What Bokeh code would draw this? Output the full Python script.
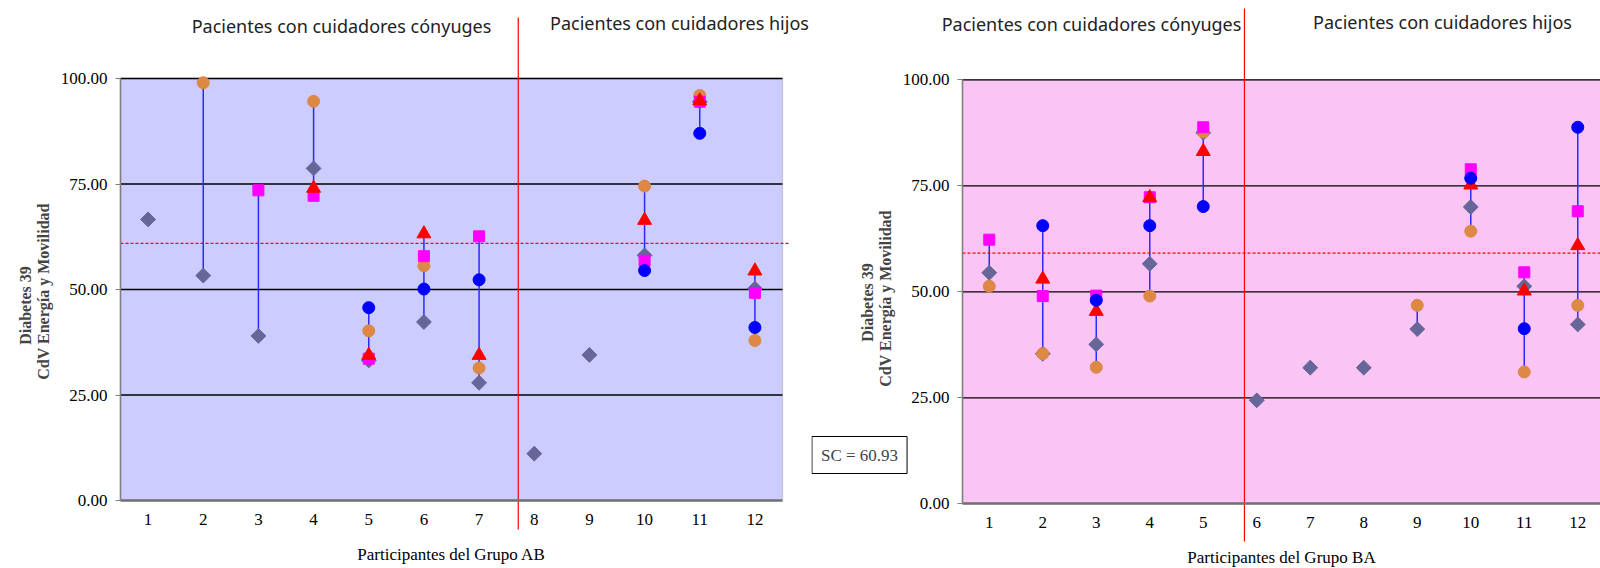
import numpy as np
from bokeh.plotting import figure
from bokeh.models import Range1d, FixedTicker, PrintfTickFormatter, Label, BoxAnnotation
from bokeh.layouts import row
from bokeh.embed import file_html
from bokeh.resources import INLINE

nan = np.nan
participants = list(range(1, 13))
y_ticks = [0, 25, 50, 75, 100]

# ---- Grupo AB ----
ab_diamond = [66.6, 53.3, 39.0, 78.7, 33.2, 42.3, 27.9, 11.1, 34.5, 58.1, 94.5, 50.2]
ab_orange = [nan, 99.0, nan, 94.6, 40.2, 55.6, 31.4, nan, nan, 74.5, 96.0, 37.9]
ab_magenta = [nan, nan, 73.5, 72.2, 33.6, 57.9, 62.6, nan, nan, 56.8, 94.5, 49.2]
ab_red = [nan, nan, nan, 74.0, 34.4, 63.2, 34.4, nan, nan, 66.4, 94.7, 54.4]
ab_blue = [nan, nan, nan, nan, 45.7, 50.1, 52.3, nan, nan, 54.5, 87.0, 41.0]
ab_sc = 60.93
ab_split = 7.71

# ---- Grupo BA ----
ba_diamond = [54.5, 35.4, 37.6, 56.6, 87.5, 24.4, 32.1, 32.1, 41.2, 70.0, 51.3, 42.3]
ba_orange = [51.3, 35.4, 32.2, 49.0, 87.7, nan, nan, nan, 46.8, 64.3, 31.1, 46.8]
ba_magenta = [62.3, 49.0, 49.1, 72.3, 88.8, nan, nan, nan, nan, 78.9, 54.6, 69.0]
ba_red = [nan, 53.0, 45.4, 72.2, 83.1, nan, nan, nan, nan, 75.2, 50.2, 60.9]
ba_blue = [nan, 65.6, 48.0, 65.6, 70.1, nan, nan, nan, nan, 76.8, 41.3, 88.8]
ba_sc = 59.1
ba_split = 5.77

title_left = "Pacientes con cuidadores cónyuges"
title_right = "Pacientes con cuidadores hijos"
ylab1 = "Diabetes 39"
ylab2 = "CdV  Energía y Movilidad"
sc_text = "SC = 60.93"

SERIF = "Liberation Serif"
SANS = "Noto Sans"
FIG_H = 568


def make_panel(series, bg, sc, split, fig_x0, fig_w, ax0, ax1, ay100, ay0, xlabel, g):
    """g: layout positions (page pixels) for texts and the separator."""
    x_lo, x_hi = 0.5, 12.5
    sx = (ax1 - ax0) / (x_hi - x_lo)
    sy = (ay0 - ay100) / 100.0

    def dx(px):
        return x_lo + (px - ax0) / sx

    def dy(py):
        return (ay0 - py) / sy

    p = figure(frame_width=fig_w, frame_height=FIG_H,
               min_border_left=0, min_border_right=0, min_border_top=0, min_border_bottom=0,
               x_range=Range1d(dx(fig_x0), dx(fig_x0 + fig_w)), y_range=Range1d(dy(FIG_H), dy(0)),
               output_backend="svg", toolbar_location=None,
               background_fill_color="white", border_fill_color="white")
    p.outline_line_color = None
    p.xgrid.visible = False
    p.ygrid.visible = False

    # plot area
    p.add_layout(BoxAnnotation(left=x_lo, right=x_hi, bottom=0, top=100, fill_color=bg, fill_alpha=1,
                               line_color="#808080", line_width=1.5, level="underlay"))
    gl = np.array(y_ticks[1:], dtype=float)
    p.segment(x0=np.full_like(gl, x_lo), y0=gl, x1=np.full_like(gl, x_hi), y1=gl,
              line_color="black", line_width=1.3)

    # axes
    p.xaxis.fixed_location = 0
    p.xaxis.bounds = (x_lo, x_hi)
    p.xaxis.ticker = FixedTicker(ticks=participants)
    p.xaxis.major_tick_out = 0
    p.xaxis.major_tick_in = 0
    p.xaxis.minor_tick_out = 0
    p.xaxis.axis_line_color = "#707070"
    p.xaxis.axis_line_width = 2.5
    p.xaxis.major_label_standoff = 13
    p.xaxis.major_label_text_font = SERIF
    p.xaxis.major_label_text_font_size = "17px"
    p.xaxis.major_label_text_color = "black"
    p.xaxis.axis_label = xlabel
    p.xaxis.axis_label_text_font = SERIF
    p.xaxis.axis_label_text_font_size = "17px"
    p.xaxis.axis_label_text_font_style = "normal"
    p.xaxis.axis_label_text_color = "black"
    p.xaxis.axis_label_standoff = 17

    p.yaxis.fixed_location = x_lo
    p.yaxis.bounds = (0, 100)
    p.yaxis.ticker = FixedTicker(ticks=y_ticks)
    p.yaxis.formatter = PrintfTickFormatter(format="%.2f")
    p.yaxis.major_tick_out = 5
    p.yaxis.major_tick_in = 0
    p.yaxis.minor_tick_out = 0
    p.yaxis.major_tick_line_color = "#808080"
    p.yaxis.axis_line_color = "#808080"
    p.yaxis.axis_line_width = 1.5
    p.yaxis.major_label_standoff = 8
    p.yaxis.major_label_text_font = SERIF
    p.yaxis.major_label_text_font_size = "17px"
    p.yaxis.major_label_text_color = "black"

    # data
    d, o, m, r, b = [np.array(s, dtype=float) for s in series]
    allv = np.vstack([d, o, m, r, b])
    lo = np.nanmin(allv, axis=0)
    hi = np.nanmax(allv, axis=0)
    xs = np.array(participants, dtype=float)
    p.segment(x0=xs, y0=lo, x1=xs, y1=hi, line_color="#2a2aff", line_width=1.5)

    # SC reference line
    p.segment(x0=[x_lo], y0=[sc], x1=[dx(g["sc_end"])], y1=[sc],
              line_color="red", line_dash="3 2", line_width=1.2)

    p.scatter(xs, d, marker="square", angle=np.pi / 4, size=10.5,
              fill_color="#666699", line_color="#666699")
    p.scatter(xs, o, marker="circle", size=12, fill_color="#dd8844", line_color="#dd8844")
    p.scatter(xs, m, marker="square", size=11, fill_color="#ff00ff", line_color="#ff00ff")
    p.scatter(xs, r, marker="triangle", size=14, fill_color="#ff0000", line_color="#ff0000")
    p.scatter(xs, b, marker="circle", size=12, fill_color="#0000ff", line_color="#0000ff")

    # separator between the two carer groups
    p.segment(x0=[split], y0=[dy(g["sep"][1])], x1=[split], y1=[dy(g["sep"][0])],
              line_color="red", line_width=1.2)

    p.add_layout(Label(x=dx(g["t1"][0]), y=dy(g["t1"][1]), text=title_left, text_align="center",
                       text_baseline="middle", text_font=SANS, text_font_size="18px",
                       text_color="#222222"))
    p.add_layout(Label(x=dx(g["t2"][0]), y=dy(g["t2"][1]), text=title_right, text_align="center",
                       text_baseline="middle", text_font=SANS, text_font_size="18px",
                       text_color="#222222"))
    p.add_layout(Label(x=dx(g["y1"][0]), y=dy(g["y1"][1]), text=ylab1, angle=np.pi / 2,
                       text_align="center", text_baseline="middle", text_font=SERIF,
                       text_font_size="16px", text_font_style="bold"))
    p.add_layout(Label(x=dx(g["y2"][0]), y=dy(g["y2"][1]), text=ylab2, angle=np.pi / 2,
                       text_align="center", text_baseline="middle", text_font=SERIF,
                       text_font_size="16px", text_font_style="bold"))
    if "sc_box" in g:
        p.add_layout(Label(x=dx(g["sc_box"][0]), y=dy(g["sc_box"][1]), text=sc_text,
                           text_align="center", text_baseline="middle", text_font=SERIF,
                           text_font_size="17px", padding=9, border_line_color="black",
                           border_line_width=1, background_fill_color="white"))
    return p


SPLIT_X = 811

left = make_panel([ab_diamond, ab_orange, ab_magenta, ab_red, ab_blue], "#ccccff", ab_sc, ab_split,
                  0, SPLIT_X, 120, 782, 78, 500, "Participantes del Grupo AB",
                  dict(sc_end=788, sep=(17, 529), t1=(341, 25), t2=(679, 22),
                       y1=(25, 305), y2=(43, 289)))

right = make_panel([ba_diamond, ba_orange, ba_magenta, ba_red, ba_blue], "#fac5f5", ba_sc, ba_split,
                   SPLIT_X, 1600 - SPLIT_X, 962, 1604, 79.3, 503.3, "Participantes del Grupo BA",
                   dict(sc_end=1600, sep=(8, 541), t1=(1091, 23), t2=(1442, 21),
                        y1=(867, 302), y2=(885, 296), sc_box=(859, 454.5)))

layout = row(left, right)
open("out.html", "w").write(file_html(layout, INLINE))
